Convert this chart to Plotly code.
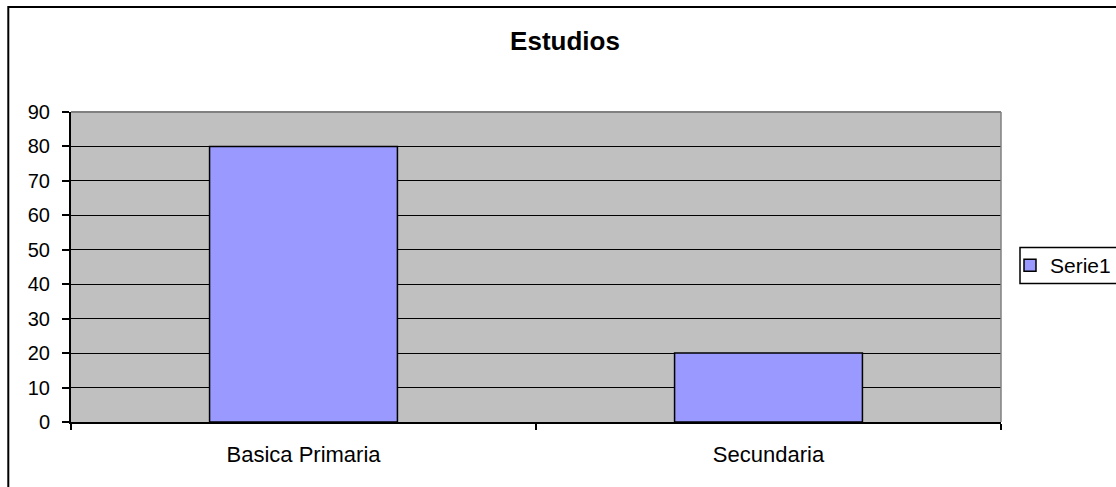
import plotly.graph_objects as go

categories = ["Basica Primaria", "Secundaria"]
values = [80, 20]
series_name = "Serie1"
y_ticks = [0, 10, 20, 30, 40, 50, 60, 70, 80, 90]

W, H = 1116, 487
L, R, T, B = 71, 1001, 112, 422
pw, ph = R - L, B - T

def px_x(x):
    return (x - L) / pw

def px_y(y):
    return (B - y) / ph

FAM = "Liberation Sans, Arial, sans-serif"
xfont = dict(family=FAM, size=22, color="black")
yfont = dict(family=FAM, size=20, color="black")

fig = go.Figure(go.Bar(
    x=categories, y=values, name=series_name,
    marker=dict(color="#9999FF", line=dict(color="black", width=1.5)),
    showlegend=True,
))

fig.update_layout(
    width=W, height=H,
    margin=dict(l=L, r=W - R, t=T, b=H - B, autoexpand=False),
    paper_bgcolor="white", plot_bgcolor="#C0C0C0",
    font=xfont,
    bargap=0.596,
    title=dict(text="<b>Estudios</b>", x=565 / W, xanchor="center", y=1 - 41 / H, yanchor="middle",
               font=dict(family=FAM, size=26, color="black")),
    legend=dict(x=px_x(1010), xanchor="left", y=px_y(265.5), yanchor="middle",
                borderwidth=0, bgcolor="rgba(0,0,0,0)",
                font=dict(family=FAM, size=21, color="black"),
                itemwidth=30),
    xaxis=dict(type="category", tickson="boundaries", ticks="outside", ticklen=6, tickcolor="black",
               tickwidth=1.5, showline=True, linecolor="black", linewidth=2, showgrid=False,
               ticklabelstandoff=12, tickfont=xfont),
    yaxis=dict(range=[0, 90], tickvals=y_ticks, ticks="outside", ticklen=7, tickcolor="black",
               tickwidth=1.5, showline=True, linecolor="black", linewidth=2, showgrid=True,
               gridcolor="black", gridwidth=1.3, zeroline=False, ticklabelstandoff=8, tickfont=yfont),
    shapes=[
        dict(type="line", xref="paper", yref="paper", x0=0, x1=1, y0=1, y1=1,
             line=dict(color="#808080", width=2), layer="above"),
        dict(type="line", xref="paper", yref="paper", x0=1, x1=1, y0=0, y1=1,
             line=dict(color="#808080", width=1.5), layer="above"),
        dict(type="rect", xref="paper", yref="paper",
             x0=px_x(8.3), x1=px_x(1130), y0=px_y(7), y1=px_y(510),
             line=dict(color="black", width=2), fillcolor="rgba(0,0,0,0)", layer="above"),
        dict(type="rect", xref="paper", yref="paper",
             x0=px_x(1020), x1=px_x(1125), y0=px_y(247.5), y1=px_y(283.5),
             line=dict(color="black", width=1.5), fillcolor="rgba(0,0,0,0)", layer="above"),
    ],
)

fig.write_html("out.html", config={"displayModeBar": False},
               post_script="document.body.style.margin='0';document.body.style.overflow='hidden';")
